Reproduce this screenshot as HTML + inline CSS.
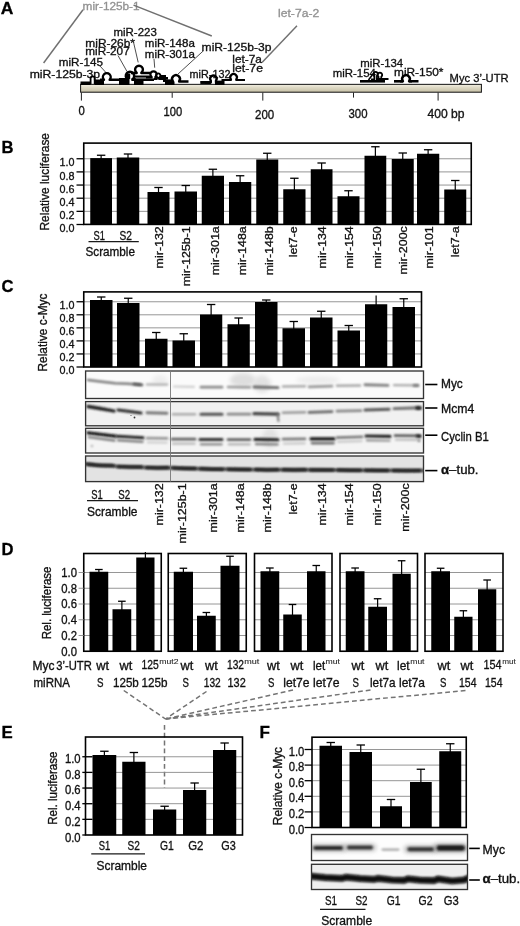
<!DOCTYPE html>
<html lang="en">
<head>
<meta charset="utf-8">
<title>Figure</title>
<style>
html,body{margin:0;padding:0;background:#fff;}
body{width:520px;height:926px;overflow:hidden;}
svg{display:block;font-family:"Liberation Sans",sans-serif;filter:blur(.35px);}
text{fill:#111;stroke:#111;stroke-width:.32px;}
text.g{fill:#929292;stroke:#929292;}
text.k{fill:#000;stroke:#000;}
</style>
</head>
<body>
<svg width="520" height="926" viewBox="0 0 520 926">
<defs>
<linearGradient id="utr" x1="0" y1="0" x2="0" y2="1">
<stop offset="0" stop-color="#f3f0e4"/><stop offset="0.45" stop-color="#dcd7c2"/><stop offset="1" stop-color="#c6c0a6"/>
</linearGradient>
<filter id="b1c" filterUnits="userSpaceOnUse" x="78" y="364" width="354" height="124"><feGaussianBlur stdDeviation="0.85"/></filter>
<filter id="b2c" filterUnits="userSpaceOnUse" x="78" y="364" width="354" height="124"><feGaussianBlur stdDeviation="1.2"/></filter>
<filter id="b3c" filterUnits="userSpaceOnUse" x="78" y="364" width="354" height="124"><feGaussianBlur stdDeviation="2.2"/></filter>
<filter id="b1f" filterUnits="userSpaceOnUse" x="304" y="828" width="172" height="68"><feGaussianBlur stdDeviation="0.85"/></filter>
<filter id="b2f" filterUnits="userSpaceOnUse" x="304" y="828" width="172" height="68"><feGaussianBlur stdDeviation="1.2"/></filter>
<filter id="b3f" filterUnits="userSpaceOnUse" x="304" y="828" width="172" height="68"><feGaussianBlur stdDeviation="2.2"/></filter>
</defs>
<rect x="0" y="0" width="520" height="926" fill="#fff"/>

<g id="panelA">
<text x="0.80" y="14.40" font-size="17.3" textLength="12.60" lengthAdjust="spacingAndGlyphs" class="k" font-weight="bold">A</text>
<text x="82.60" y="9.70" font-size="11.3" textLength="57.00" lengthAdjust="spacingAndGlyphs" class="g">mir-125b-1</text>
<text x="278.00" y="16.90" font-size="11.5" textLength="41.20" lengthAdjust="spacingAndGlyphs" class="g">let-7a-2</text>
<line x1="83.00" y1="9.80" x2="43.60" y2="63.00" stroke="#707070" stroke-width="1.45"/>
<line x1="133.50" y1="5.20" x2="211.80" y2="36.00" stroke="#707070" stroke-width="1.45"/>
<line x1="297.00" y1="25.80" x2="262.00" y2="62.40" stroke="#707070" stroke-width="1.45"/>
<text x="29.70" y="77.60" font-size="11.4" textLength="70.40" lengthAdjust="spacingAndGlyphs">miR-125b-3p</text>
<text x="58.80" y="65.60" font-size="11.4" textLength="44.10" lengthAdjust="spacingAndGlyphs">miR-145</text>
<text x="85.30" y="55.00" font-size="11.4" textLength="44.40" lengthAdjust="spacingAndGlyphs">miR-207</text>
<text x="85.30" y="46.50" font-size="11.4" textLength="49.70" lengthAdjust="spacingAndGlyphs">miR-26b*</text>
<text x="113.50" y="36.40" font-size="11.4" textLength="43.30" lengthAdjust="spacingAndGlyphs">miR-223</text>
<text x="144.80" y="47.40" font-size="11.4" textLength="50.10" lengthAdjust="spacingAndGlyphs">miR-148a</text>
<text x="144.80" y="57.90" font-size="11.4" textLength="50.10" lengthAdjust="spacingAndGlyphs">miR-301a</text>
<text x="201.60" y="50.70" font-size="11.4" textLength="69.80" lengthAdjust="spacingAndGlyphs">miR-125b-3p</text>
<text x="232.30" y="62.80" font-size="11.4" textLength="29.60" lengthAdjust="spacingAndGlyphs">let-7a</text>
<text x="232.30" y="71.90" font-size="11.4" textLength="30.70" lengthAdjust="spacingAndGlyphs">let-7e</text>
<text x="189.60" y="77.60" font-size="11.4" textLength="40.80" lengthAdjust="spacingAndGlyphs">miR-132</text>
<text x="332.80" y="76.90" font-size="11.4" textLength="43.00" lengthAdjust="spacingAndGlyphs">miR-154</text>
<text x="360.20" y="67.00" font-size="11.4" textLength="43.00" lengthAdjust="spacingAndGlyphs">miR-134</text>
<text x="394.00" y="75.90" font-size="11.4" textLength="49.50" lengthAdjust="spacingAndGlyphs">miR-150*</text>
<text x="449.60" y="82.40" font-size="11.4" textLength="59.00" lengthAdjust="spacingAndGlyphs">Myc 3’-UTR</text>
<line x1="100.00" y1="66.00" x2="106.40" y2="73.00" stroke="#3a3a3a" stroke-width="0.9"/>
<line x1="118.00" y1="55.50" x2="127.00" y2="71.50" stroke="#3a3a3a" stroke-width="0.9"/>
<line x1="133.00" y1="40.00" x2="138.20" y2="62.40" stroke="#3a3a3a" stroke-width="0.9"/>
<line x1="154.00" y1="58.80" x2="154.70" y2="67.70" stroke="#3a3a3a" stroke-width="0.9"/>
<line x1="203.40" y1="50.80" x2="178.00" y2="74.00" stroke="#3a3a3a" stroke-width="0.9"/>
<rect x="80.60" y="84.35" width="400.80" height="7.85" fill="url(#utr)" stroke="#111" stroke-width="1"/>
<line x1="81.40" y1="92.50" x2="81.40" y2="100.60" stroke="#222" stroke-width="1"/>
<line x1="172.20" y1="92.50" x2="172.20" y2="97.80" stroke="#222" stroke-width="1"/>
<line x1="262.80" y1="92.50" x2="262.80" y2="100.60" stroke="#222" stroke-width="1"/>
<line x1="353.50" y1="92.50" x2="353.50" y2="97.60" stroke="#222" stroke-width="1"/>
<line x1="438.10" y1="92.50" x2="438.10" y2="100.60" stroke="#222" stroke-width="1"/>
<text x="78.60" y="115.00" font-size="11.9" textLength="6.30" lengthAdjust="spacingAndGlyphs">0</text>
<text x="163.60" y="115.70" font-size="11.9" textLength="18.60" lengthAdjust="spacingAndGlyphs">100</text>
<text x="255.00" y="118.50" font-size="11.9" textLength="19.20" lengthAdjust="spacingAndGlyphs">200</text>
<text x="348.50" y="117.60" font-size="11.9" textLength="19.00" lengthAdjust="spacingAndGlyphs">300</text>
<text x="427.50" y="117.60" font-size="11.9" textLength="37.00" lengthAdjust="spacingAndGlyphs">400 bp</text>
<rect x="80.50" y="81.50" width="10.10" height="3.50" fill="#000"/>
<path d="M90.60,84.00 L90.60,78.35 A2.05,2.05 0 0 1 94.70,78.35 L94.70,84.00" fill="none" stroke="#000" stroke-width="1.8"/>
<rect x="94.60" y="79.50" width="9.40" height="5.50" fill="#000"/>
<path d="M100.00,79.80 L103.99,79.80 L103.99,79.72 A3.90,3.90 0 1 1 109.61,79.72 L109.61,79.80 L119.50,79.80" fill="none" stroke="#000" stroke-width="2.4" stroke-linejoin="round" stroke-linecap="butt"/>
<rect x="119.00" y="78.00" width="10.50" height="7.00" fill="#000"/>
<path d="M122.00,79.50 L127.48,79.50 L127.48,79.26 A4.20,4.20 0 1 1 132.52,79.26 L132.52,79.50 L136.00,79.50" fill="none" stroke="#000" stroke-width="2.5" stroke-linejoin="round" stroke-linecap="butt"/>
<rect x="126.20" y="73.50" width="4.00" height="5.50" fill="#000"/>
<path d="M131.00,73.00 L136.66,73.00 L136.66,72.72 A3.90,3.90 0 1 1 141.34,72.72 L141.34,73.00 L150.50,73.00" fill="none" stroke="#000" stroke-width="2.4" stroke-linejoin="round" stroke-linecap="butt"/>
<rect x="133.00" y="75.50" width="17.50" height="2.10" fill="#000"/>
<rect x="131.50" y="78.40" width="22.50" height="2.60" fill="#000"/>
<rect x="134.00" y="81.00" width="9.50" height="4.00" fill="#000"/>
<path d="M146.00,77.50 L151.64,77.50 L151.64,76.88 A3.10,3.10 0 1 1 155.36,76.88 L155.36,77.50 L158.00,77.50" fill="none" stroke="#000" stroke-width="2.2" stroke-linejoin="round" stroke-linecap="butt"/>
<path d="M154.00,79.00 L156.88,79.00 L156.88,77.36 A2.20,2.20 0 1 1 159.52,77.36 L159.52,79.00 L166.00,79.00" fill="none" stroke="#000" stroke-width="1.9" stroke-linejoin="round" stroke-linecap="butt"/>
<rect x="160.00" y="75.00" width="6.00" height="2.20" fill="#000"/>
<rect x="158.00" y="77.00" width="10.00" height="2.60" fill="#000"/>
<rect x="163.00" y="79.40" width="8.00" height="2.60" fill="#000"/>
<rect x="165.00" y="81.50" width="9.50" height="3.50" fill="#000"/>
<path d="M171.00,81.50 L172.88,81.50 L172.88,81.32 A3.90,3.90 0 1 1 179.12,81.32 L179.12,81.50 L188.50,81.50" fill="none" stroke="#000" stroke-width="2.4" stroke-linejoin="round" stroke-linecap="butt"/>
<rect x="200.50" y="81.00" width="10.00" height="2.80" fill="#000"/>
<path d="M205.00,82.60 L210.84,82.60 L210.84,80.76 A3.20,3.20 0 1 1 215.96,80.76 L215.96,82.60 L220.00,82.60" fill="none" stroke="#000" stroke-width="2.3" stroke-linejoin="round" stroke-linecap="butt"/>
<rect x="200.50" y="81.00" width="10.50" height="2.80" fill="#000"/>
<rect x="215.00" y="80.60" width="9.50" height="4.30" fill="#000"/>
<path d="M221.50,80.00 L230.96,80.00 L230.96,79.34 A3.30,3.30 0 1 1 236.24,79.34 L236.24,80.00 L245.00,80.00" fill="none" stroke="#000" stroke-width="2.2" stroke-linejoin="round" stroke-linecap="butt"/>
<rect x="360.00" y="80.00" width="25.00" height="2.60" fill="#000"/>
<rect x="376.50" y="78.00" width="12.00" height="2.00" fill="#000"/>
<path d="M371.00,79.50 L374.44,79.50 L374.44,75.68 A2.10,2.10 0 1 1 376.96,75.68 L376.96,79.50 L379.00,79.50" fill="none" stroke="#000" stroke-width="1.8" stroke-linejoin="round" stroke-linecap="butt"/>
<path d="M376.00,79.50 L378.52,79.50 L378.52,76.74 A2.30,2.30 0 1 1 381.28,76.74 L381.28,79.50 L385.00,79.50" fill="none" stroke="#000" stroke-width="1.8" stroke-linejoin="round" stroke-linecap="butt"/>
<line x1="368.50" y1="80.00" x2="374.50" y2="72.00" stroke="#000" stroke-width="1.6"/>
<rect x="394.00" y="80.00" width="9.00" height="2.60" fill="#000"/>
<path d="M400.00,81.30 L402.96,81.30 L402.96,81.14 A3.80,3.80 0 1 1 409.04,81.14 L409.04,81.30 L412.00,81.30" fill="none" stroke="#000" stroke-width="2.4" stroke-linejoin="round" stroke-linecap="butt"/>
<rect x="409.00" y="80.00" width="9.50" height="2.50" fill="#000"/>
</g>
<g id="panelB">
<text x="1.50" y="152.50" font-size="17.3" textLength="12.00" lengthAdjust="spacingAndGlyphs" class="k" font-weight="bold">B</text>
<line x1="83.75" y1="158.75" x2="471.25" y2="158.75" stroke="#8a8a8a" stroke-width="0.9"/>
<line x1="83.75" y1="171.90" x2="471.25" y2="171.90" stroke="#8a8a8a" stroke-width="0.9"/>
<line x1="83.75" y1="185.05" x2="471.25" y2="185.05" stroke="#8a8a8a" stroke-width="0.9"/>
<line x1="83.75" y1="198.20" x2="471.25" y2="198.20" stroke="#8a8a8a" stroke-width="0.9"/>
<line x1="83.75" y1="211.35" x2="471.25" y2="211.35" stroke="#8a8a8a" stroke-width="0.9"/>
<line x1="101.12" y1="155.25" x2="101.12" y2="159.10" stroke="#000" stroke-width="1.2"/>
<line x1="96.92" y1="155.25" x2="105.33" y2="155.25" stroke="#000" stroke-width="1.3"/>
<rect x="90.25" y="158.10" width="21.75" height="66.30" fill="#000"/>
<line x1="128.00" y1="154.00" x2="128.00" y2="158.50" stroke="#000" stroke-width="1.2"/>
<line x1="123.80" y1="154.00" x2="132.20" y2="154.00" stroke="#000" stroke-width="1.3"/>
<rect x="116.75" y="157.50" width="22.50" height="66.90" fill="#000"/>
<line x1="158.50" y1="187.50" x2="158.50" y2="193.00" stroke="#000" stroke-width="1.2"/>
<line x1="154.30" y1="187.50" x2="162.70" y2="187.50" stroke="#000" stroke-width="1.3"/>
<rect x="147.50" y="192.00" width="22.00" height="32.40" fill="#000"/>
<line x1="185.75" y1="185.50" x2="185.75" y2="192.50" stroke="#000" stroke-width="1.2"/>
<line x1="181.55" y1="185.50" x2="189.95" y2="185.50" stroke="#000" stroke-width="1.3"/>
<rect x="174.50" y="191.50" width="22.50" height="32.90" fill="#000"/>
<line x1="212.88" y1="169.25" x2="212.88" y2="176.75" stroke="#000" stroke-width="1.2"/>
<line x1="208.68" y1="169.25" x2="217.07" y2="169.25" stroke="#000" stroke-width="1.3"/>
<rect x="201.75" y="175.75" width="22.25" height="48.65" fill="#000"/>
<line x1="240.12" y1="175.75" x2="240.12" y2="183.00" stroke="#000" stroke-width="1.2"/>
<line x1="235.93" y1="175.75" x2="244.32" y2="175.75" stroke="#000" stroke-width="1.3"/>
<rect x="229.00" y="182.00" width="22.25" height="42.40" fill="#000"/>
<line x1="267.25" y1="153.25" x2="267.25" y2="160.50" stroke="#000" stroke-width="1.2"/>
<line x1="263.05" y1="153.25" x2="271.45" y2="153.25" stroke="#000" stroke-width="1.3"/>
<rect x="256.25" y="159.50" width="22.00" height="64.90" fill="#000"/>
<line x1="294.38" y1="178.25" x2="294.38" y2="190.25" stroke="#000" stroke-width="1.2"/>
<line x1="290.18" y1="178.25" x2="298.57" y2="178.25" stroke="#000" stroke-width="1.3"/>
<rect x="283.25" y="189.25" width="22.25" height="35.15" fill="#000"/>
<line x1="321.62" y1="163.00" x2="321.62" y2="170.25" stroke="#000" stroke-width="1.2"/>
<line x1="317.43" y1="163.00" x2="325.82" y2="163.00" stroke="#000" stroke-width="1.3"/>
<rect x="310.75" y="169.25" width="21.75" height="55.15" fill="#000"/>
<line x1="348.50" y1="190.75" x2="348.50" y2="197.25" stroke="#000" stroke-width="1.2"/>
<line x1="344.30" y1="190.75" x2="352.70" y2="190.75" stroke="#000" stroke-width="1.3"/>
<rect x="337.50" y="196.25" width="22.00" height="28.15" fill="#000"/>
<line x1="375.38" y1="146.75" x2="375.38" y2="156.75" stroke="#000" stroke-width="1.2"/>
<line x1="371.18" y1="146.75" x2="379.57" y2="146.75" stroke="#000" stroke-width="1.3"/>
<rect x="364.50" y="155.75" width="21.75" height="68.65" fill="#000"/>
<line x1="402.75" y1="153.00" x2="402.75" y2="160.00" stroke="#000" stroke-width="1.2"/>
<line x1="398.55" y1="153.00" x2="406.95" y2="153.00" stroke="#000" stroke-width="1.3"/>
<rect x="391.75" y="159.00" width="22.00" height="65.40" fill="#000"/>
<line x1="428.12" y1="149.75" x2="428.12" y2="154.75" stroke="#000" stroke-width="1.2"/>
<line x1="423.93" y1="149.75" x2="432.32" y2="149.75" stroke="#000" stroke-width="1.3"/>
<rect x="417.00" y="153.75" width="22.25" height="70.65" fill="#000"/>
<line x1="455.25" y1="180.50" x2="455.25" y2="190.50" stroke="#000" stroke-width="1.2"/>
<line x1="451.05" y1="180.50" x2="459.45" y2="180.50" stroke="#000" stroke-width="1.3"/>
<rect x="444.25" y="189.50" width="22.00" height="34.90" fill="#000"/>
<rect x="83.75" y="143.10" width="387.50" height="81.30" fill="none" stroke="#000" stroke-width="1.6"/>
<line x1="76.50" y1="158.75" x2="83.75" y2="158.75" stroke="#000" stroke-width="1.3"/>
<line x1="76.50" y1="171.90" x2="83.75" y2="171.90" stroke="#000" stroke-width="1.3"/>
<line x1="76.50" y1="185.05" x2="83.75" y2="185.05" stroke="#000" stroke-width="1.3"/>
<line x1="76.50" y1="198.20" x2="83.75" y2="198.20" stroke="#000" stroke-width="1.3"/>
<line x1="76.50" y1="211.35" x2="83.75" y2="211.35" stroke="#000" stroke-width="1.3"/>
<line x1="76.50" y1="224.50" x2="83.75" y2="224.50" stroke="#000" stroke-width="1.3"/>
<text x="74.50" y="166.35" font-size="11.8" textLength="15.00" lengthAdjust="spacingAndGlyphs" text-anchor="end">1.0</text>
<text x="74.50" y="179.50" font-size="11.8" textLength="15.00" lengthAdjust="spacingAndGlyphs" text-anchor="end">0.8</text>
<text x="74.50" y="192.65" font-size="11.8" textLength="15.00" lengthAdjust="spacingAndGlyphs" text-anchor="end">0.6</text>
<text x="74.50" y="205.80" font-size="11.8" textLength="15.00" lengthAdjust="spacingAndGlyphs" text-anchor="end">0.4</text>
<text x="74.50" y="218.95" font-size="11.8" textLength="15.00" lengthAdjust="spacingAndGlyphs" text-anchor="end">0.2</text>
<text x="74.50" y="232.10" font-size="11.8" textLength="15.00" lengthAdjust="spacingAndGlyphs" text-anchor="end">0.0</text>
<text x="48.90" y="230.50" font-size="12.2" textLength="97.50" lengthAdjust="spacingAndGlyphs" transform="rotate(-90 48.90 230.50)">Relative luciferase</text>
<text x="93.60" y="240.00" font-size="12.2" textLength="11.40" lengthAdjust="spacingAndGlyphs">S1</text>
<text x="119.50" y="240.00" font-size="12.2" textLength="12.40" lengthAdjust="spacingAndGlyphs">S2</text>
<line x1="88.50" y1="241.60" x2="138.80" y2="241.60" stroke="#1a1a1a" stroke-width="1.3"/>
<text x="85.50" y="255.75" font-size="12.2" textLength="49.50" lengthAdjust="spacingAndGlyphs">Scramble</text>
<text x="163.00" y="226.20" font-size="11.7" textLength="42.18" lengthAdjust="spacingAndGlyphs" text-anchor="end" transform="rotate(-90 163.00 226.20)">mir-132</text>
<text x="190.00" y="226.20" font-size="11.7" textLength="60.17" lengthAdjust="spacingAndGlyphs" text-anchor="end" transform="rotate(-90 190.00 226.20)">mir-125b-1</text>
<text x="219.30" y="226.20" font-size="11.7" textLength="49.10" lengthAdjust="spacingAndGlyphs" text-anchor="end" transform="rotate(-90 219.30 226.20)">mir-301a</text>
<text x="246.00" y="226.20" font-size="11.7" textLength="49.10" lengthAdjust="spacingAndGlyphs" text-anchor="end" transform="rotate(-90 246.00 226.20)">mir-148a</text>
<text x="272.80" y="226.20" font-size="11.7" textLength="49.10" lengthAdjust="spacingAndGlyphs" text-anchor="end" transform="rotate(-90 272.80 226.20)">mir-148b</text>
<text x="297.20" y="226.20" font-size="11.7" textLength="31.13" lengthAdjust="spacingAndGlyphs" text-anchor="end" transform="rotate(-90 297.20 226.20)">let7-e</text>
<text x="325.80" y="226.20" font-size="11.7" textLength="42.18" lengthAdjust="spacingAndGlyphs" text-anchor="end" transform="rotate(-90 325.80 226.20)">mir-134</text>
<text x="353.40" y="226.20" font-size="11.7" textLength="42.18" lengthAdjust="spacingAndGlyphs" text-anchor="end" transform="rotate(-90 353.40 226.20)">mir-154</text>
<text x="380.80" y="226.20" font-size="11.7" textLength="42.18" lengthAdjust="spacingAndGlyphs" text-anchor="end" transform="rotate(-90 380.80 226.20)">mir-150</text>
<text x="407.00" y="226.20" font-size="11.7" textLength="48.41" lengthAdjust="spacingAndGlyphs" text-anchor="end" transform="rotate(-90 407.00 226.20)">mir-200c</text>
<text x="433.00" y="226.20" font-size="11.7" textLength="42.18" lengthAdjust="spacingAndGlyphs" text-anchor="end" transform="rotate(-90 433.00 226.20)">mir-101</text>
<text x="458.70" y="226.20" font-size="11.7" textLength="31.13" lengthAdjust="spacingAndGlyphs" text-anchor="end" transform="rotate(-90 458.70 226.20)">let7-a</text>
</g>
<g id="panelC">
<text x="1.50" y="292.20" font-size="17.3" textLength="12.00" lengthAdjust="spacingAndGlyphs" class="k" font-weight="bold">C</text>
<line x1="83.75" y1="301.75" x2="421.50" y2="301.75" stroke="#8a8a8a" stroke-width="0.9"/>
<line x1="83.75" y1="314.80" x2="421.50" y2="314.80" stroke="#8a8a8a" stroke-width="0.9"/>
<line x1="83.75" y1="327.85" x2="421.50" y2="327.85" stroke="#8a8a8a" stroke-width="0.9"/>
<line x1="83.75" y1="340.90" x2="421.50" y2="340.90" stroke="#8a8a8a" stroke-width="0.9"/>
<line x1="83.75" y1="353.95" x2="421.50" y2="353.95" stroke="#8a8a8a" stroke-width="0.9"/>
<line x1="101.25" y1="297.00" x2="101.25" y2="301.00" stroke="#000" stroke-width="1.2"/>
<line x1="97.05" y1="297.00" x2="105.45" y2="297.00" stroke="#000" stroke-width="1.3"/>
<rect x="90.00" y="300.00" width="22.50" height="67.00" fill="#000"/>
<line x1="128.25" y1="298.25" x2="128.25" y2="304.00" stroke="#000" stroke-width="1.2"/>
<line x1="124.05" y1="298.25" x2="132.45" y2="298.25" stroke="#000" stroke-width="1.3"/>
<rect x="117.00" y="303.00" width="22.50" height="64.00" fill="#000"/>
<line x1="156.25" y1="332.50" x2="156.25" y2="339.75" stroke="#000" stroke-width="1.2"/>
<line x1="152.05" y1="332.50" x2="160.45" y2="332.50" stroke="#000" stroke-width="1.3"/>
<rect x="145.00" y="338.75" width="22.50" height="28.25" fill="#000"/>
<line x1="183.75" y1="333.75" x2="183.75" y2="341.50" stroke="#000" stroke-width="1.2"/>
<line x1="179.55" y1="333.75" x2="187.95" y2="333.75" stroke="#000" stroke-width="1.3"/>
<rect x="172.50" y="340.50" width="22.50" height="26.50" fill="#000"/>
<line x1="211.12" y1="304.50" x2="211.12" y2="315.50" stroke="#000" stroke-width="1.2"/>
<line x1="206.93" y1="304.50" x2="215.32" y2="304.50" stroke="#000" stroke-width="1.3"/>
<rect x="200.00" y="314.50" width="22.25" height="52.50" fill="#000"/>
<line x1="238.62" y1="318.00" x2="238.62" y2="325.25" stroke="#000" stroke-width="1.2"/>
<line x1="234.43" y1="318.00" x2="242.82" y2="318.00" stroke="#000" stroke-width="1.3"/>
<rect x="227.50" y="324.25" width="22.25" height="42.75" fill="#000"/>
<line x1="266.25" y1="300.00" x2="266.25" y2="303.00" stroke="#000" stroke-width="1.2"/>
<line x1="262.05" y1="300.00" x2="270.45" y2="300.00" stroke="#000" stroke-width="1.3"/>
<rect x="255.00" y="302.00" width="22.50" height="65.00" fill="#000"/>
<line x1="293.75" y1="321.50" x2="293.75" y2="329.25" stroke="#000" stroke-width="1.2"/>
<line x1="289.55" y1="321.50" x2="297.95" y2="321.50" stroke="#000" stroke-width="1.3"/>
<rect x="282.50" y="328.25" width="22.50" height="38.75" fill="#000"/>
<line x1="321.25" y1="311.25" x2="321.25" y2="318.50" stroke="#000" stroke-width="1.2"/>
<line x1="317.05" y1="311.25" x2="325.45" y2="311.25" stroke="#000" stroke-width="1.3"/>
<rect x="310.00" y="317.50" width="22.50" height="49.50" fill="#000"/>
<line x1="348.75" y1="325.50" x2="348.75" y2="331.50" stroke="#000" stroke-width="1.2"/>
<line x1="344.55" y1="325.50" x2="352.95" y2="325.50" stroke="#000" stroke-width="1.3"/>
<rect x="337.50" y="330.50" width="22.50" height="36.50" fill="#000"/>
<line x1="376.12" y1="295.50" x2="376.12" y2="305.25" stroke="#000" stroke-width="1.2"/>
<rect x="365.00" y="304.25" width="22.25" height="62.75" fill="#000"/>
<line x1="403.75" y1="298.75" x2="403.75" y2="308.00" stroke="#000" stroke-width="1.2"/>
<line x1="399.55" y1="298.75" x2="407.95" y2="298.75" stroke="#000" stroke-width="1.3"/>
<rect x="392.50" y="307.00" width="22.50" height="60.00" fill="#000"/>
<rect x="83.75" y="291.90" width="337.75" height="75.10" fill="none" stroke="#000" stroke-width="1.6"/>
<line x1="76.50" y1="301.75" x2="83.75" y2="301.75" stroke="#000" stroke-width="1.3"/>
<line x1="76.50" y1="314.80" x2="83.75" y2="314.80" stroke="#000" stroke-width="1.3"/>
<line x1="76.50" y1="327.85" x2="83.75" y2="327.85" stroke="#000" stroke-width="1.3"/>
<line x1="76.50" y1="340.90" x2="83.75" y2="340.90" stroke="#000" stroke-width="1.3"/>
<line x1="76.50" y1="353.95" x2="83.75" y2="353.95" stroke="#000" stroke-width="1.3"/>
<line x1="76.50" y1="367.00" x2="83.75" y2="367.00" stroke="#000" stroke-width="1.3"/>
<text x="74.40" y="309.15" font-size="11.8" textLength="15.00" lengthAdjust="spacingAndGlyphs" text-anchor="end">1.0</text>
<text x="74.40" y="322.20" font-size="11.8" textLength="15.00" lengthAdjust="spacingAndGlyphs" text-anchor="end">0.8</text>
<text x="74.40" y="335.25" font-size="11.8" textLength="15.00" lengthAdjust="spacingAndGlyphs" text-anchor="end">0.6</text>
<text x="74.40" y="348.30" font-size="11.8" textLength="15.00" lengthAdjust="spacingAndGlyphs" text-anchor="end">0.4</text>
<text x="74.40" y="361.35" font-size="11.8" textLength="15.00" lengthAdjust="spacingAndGlyphs" text-anchor="end">0.2</text>
<text x="74.40" y="374.40" font-size="11.8" textLength="15.00" lengthAdjust="spacingAndGlyphs" text-anchor="end">0.0</text>
<text x="47.00" y="371.50" font-size="12.2" textLength="78.00" lengthAdjust="spacingAndGlyphs" transform="rotate(-90 47.00 371.50)">Relative c-Myc</text>
</g>
<g id="blotsC">
<clipPath id="cl1"><rect x="85" y="370.5" width="338.5" height="28"/></clipPath>
<rect x="85.60" y="371.00" width="337.90" height="27.50" fill="#fbfbfb"/>
<g clip-path="url(#cl1)">
<ellipse cx="243" cy="380" rx="13" ry="7" fill="#dedede" filter="url(#b3c)"/>
<ellipse cx="262" cy="384" rx="9" ry="9" fill="#e2e2e2" filter="url(#b3c)"/>
<ellipse cx="318" cy="380" rx="22" ry="4" fill="#ececec" filter="url(#b3c)"/>
<ellipse cx="160" cy="380" rx="8" ry="5" fill="#ededed" filter="url(#b3c)"/>
<path d="M88.0,380.0 L100.0,381.5 L115.0,383.2 L128.0,383.8 L140.0,384.8" fill="none" stroke="#7d7d7d" stroke-width="2.5" stroke-linecap="round" filter="url(#b1c)" opacity="1.0"/>
<path d="M134.0,384.0 L142.0,384.8" fill="none" stroke="#5c5c5c" stroke-width="2.7" stroke-linecap="round" filter="url(#b1c)" opacity="1.0"/>
<path d="M147.0,384.5 L167.0,384.5" fill="none" stroke="#b5b5b5" stroke-width="2.5" stroke-linecap="round" filter="url(#b1c)" opacity="1.0"/>
<path d="M174.0,386.5 L194.0,386.8" fill="none" stroke="#cfcfcf" stroke-width="2.2" stroke-linecap="round" filter="url(#b1c)" opacity="1.0"/>
<path d="M201.0,387.2 L222.0,387.2" fill="none" stroke="#8a8a8a" stroke-width="2.7" stroke-linecap="round" filter="url(#b1c)" opacity="1.0"/>
<path d="M228.0,387.0 L250.0,387.2" fill="none" stroke="#999" stroke-width="2.5999999999999996" stroke-linecap="round" filter="url(#b1c)" opacity="1.0"/>
<path d="M254.0,387.0 L278.0,387.6" fill="none" stroke="#6a6a6a" stroke-width="2.9000000000000004" stroke-linecap="round" filter="url(#b1c)" opacity="1.0"/>
<path d="M283.0,386.5 L305.0,386.3" fill="none" stroke="#aaa" stroke-width="2.5" stroke-linecap="round" filter="url(#b1c)" opacity="1.0"/>
<path d="M309.0,386.8 L332.0,386.2" fill="none" stroke="#999" stroke-width="2.7" stroke-linecap="round" filter="url(#b1c)" opacity="1.0"/>
<path d="M337.0,385.8 L360.0,385.5" fill="none" stroke="#a8a8a8" stroke-width="2.5999999999999996" stroke-linecap="round" filter="url(#b1c)" opacity="1.0"/>
<path d="M365.0,384.8 L388.0,385.4" fill="none" stroke="#808080" stroke-width="2.9000000000000004" stroke-linecap="round" filter="url(#b1c)" opacity="1.0"/>
<path d="M394.0,385.2 L418.0,385.4" fill="none" stroke="#aaa" stroke-width="2.2" stroke-linecap="round" filter="url(#b1c)" opacity="1.0"/>
<path d="M414.0,385.6 L418.0,385.6" fill="none" stroke="#777" stroke-width="2.5" stroke-linecap="round" filter="url(#b1c)" opacity="1.0"/>
</g>
<rect x="85.60" y="371.00" width="337.90" height="27.50" fill="none" stroke="#333" stroke-width="1.35"/>
<clipPath id="cl2"><rect x="85" y="401.6" width="338.5" height="24.2"/></clipPath>
<rect x="85.60" y="401.60" width="337.90" height="24.20" fill="#f1f1f1"/>
<g clip-path="url(#cl2)">
<path d="M88.0,406.5 L100.0,408.5 L114.0,411.0" fill="none" stroke="#1e1e1e" stroke-width="3.3" stroke-linecap="round" filter="url(#b1c)" opacity="1.0"/>
<path d="M118.0,410.0 L130.0,411.5 L141.0,413.0" fill="none" stroke="#2c2c2c" stroke-width="3.0999999999999996" stroke-linecap="round" filter="url(#b1c)" opacity="1.0"/>
<path d="M147.0,412.8 L167.0,413.2" fill="none" stroke="#777" stroke-width="2.9000000000000004" stroke-linecap="round" filter="url(#b1c)" opacity="1.0"/>
<path d="M173.0,414.2 L195.0,414.2" fill="none" stroke="#aaa" stroke-width="2.5" stroke-linecap="round" filter="url(#b1c)" opacity="1.0"/>
<path d="M201.0,414.2 L222.0,414.2" fill="none" stroke="#505050" stroke-width="3.0999999999999996" stroke-linecap="round" filter="url(#b1c)" opacity="1.0"/>
<path d="M228.0,414.2 L250.0,414.2" fill="none" stroke="#888" stroke-width="2.7" stroke-linecap="round" filter="url(#b1c)" opacity="1.0"/>
<path d="M254.0,413.6 L278.0,414.2" fill="none" stroke="#404040" stroke-width="3.3" stroke-linecap="round" filter="url(#b1c)" opacity="1.0"/>
<path d="M277.5,414.0 L278.5,421.0" fill="none" stroke="#777" stroke-width="2.0" stroke-linecap="round" filter="url(#b2c)" opacity="1.0"/>
<path d="M283.0,412.8 L305.0,412.3" fill="none" stroke="#999" stroke-width="2.5999999999999996" stroke-linecap="round" filter="url(#b1c)" opacity="1.0"/>
<path d="M309.0,412.4 L332.0,411.6" fill="none" stroke="#666" stroke-width="2.9000000000000004" stroke-linecap="round" filter="url(#b1c)" opacity="1.0"/>
<path d="M337.0,411.2 L361.0,410.6" fill="none" stroke="#888" stroke-width="2.7" stroke-linecap="round" filter="url(#b1c)" opacity="1.0"/>
<path d="M365.0,410.0 L389.0,409.2" fill="none" stroke="#555" stroke-width="3.0999999999999996" stroke-linecap="round" filter="url(#b1c)" opacity="1.0"/>
<path d="M394.0,408.6 L420.0,407.8" fill="none" stroke="#6a6a6a" stroke-width="2.9000000000000004" stroke-linecap="round" filter="url(#b1c)" opacity="1.0"/>
<path d="M417.0,408.0 L420.0,408.2" fill="none" stroke="#222" stroke-width="3.3" stroke-linecap="round" filter="url(#b1c)" opacity="1.0"/>
<circle cx="134.5" cy="417.5" r="0.9" fill="#333"/><circle cx="131" cy="415.5" r="0.6" fill="#555"/>
</g>
<rect x="85.60" y="401.60" width="337.90" height="24.20" fill="none" stroke="#333" stroke-width="1.35"/>
<clipPath id="cl3"><rect x="85" y="428.3" width="338.5" height="24.7"/></clipPath>
<rect x="85.60" y="428.30" width="337.90" height="24.70" fill="#f4f4f4"/>
<g clip-path="url(#cl3)">
<ellipse cx="270" cy="438" rx="8" ry="10" fill="#e2e2e2" filter="url(#b3c)"/>
<path d="M88.0,432.8 L115.0,436.2" fill="none" stroke="#141414" stroke-width="3.2" stroke-linecap="round" filter="url(#b1c)" opacity="1.0"/>
<path d="M89.0,437.1 L114.5,440.5" fill="none" stroke="#7c7c7c" stroke-width="2.4" stroke-linecap="round" filter="url(#b1c)" opacity="1.0"/>
<path d="M117.0,436.2 L143.0,437.8" fill="none" stroke="#222" stroke-width="3.0999999999999996" stroke-linecap="round" filter="url(#b1c)" opacity="1.0"/>
<path d="M118.0,440.2 L142.5,441.8" fill="none" stroke="#808080" stroke-width="2.4" stroke-linecap="round" filter="url(#b1c)" opacity="1.0"/>
<path d="M147.0,438.2 L167.0,438.4" fill="none" stroke="#969696" stroke-width="2.7" stroke-linecap="round" filter="url(#b1c)" opacity="1.0"/>
<path d="M148.0,442.4 L166.5,442.6" fill="none" stroke="#cfcfcf" stroke-width="2.4" stroke-linecap="round" filter="url(#b1c)" opacity="1.0"/>
<path d="M172.0,439.2 L195.0,439.2" fill="none" stroke="#5e5e5e" stroke-width="2.7" stroke-linecap="round" filter="url(#b1c)" opacity="1.0"/>
<path d="M173.0,443.6 L194.5,443.6" fill="none" stroke="#b8b8b8" stroke-width="2.4" stroke-linecap="round" filter="url(#b1c)" opacity="1.0"/>
<path d="M200.0,439.6 L222.0,439.6" fill="none" stroke="#2e2e2e" stroke-width="3.0" stroke-linecap="round" filter="url(#b1c)" opacity="1.0"/>
<path d="M201.0,444.2 L221.5,444.2" fill="none" stroke="#909090" stroke-width="2.4" stroke-linecap="round" filter="url(#b1c)" opacity="1.0"/>
<path d="M228.0,439.6 L250.0,439.6" fill="none" stroke="#606060" stroke-width="2.7" stroke-linecap="round" filter="url(#b1c)" opacity="1.0"/>
<path d="M229.0,444.2 L249.5,444.2" fill="none" stroke="#b8b8b8" stroke-width="2.4" stroke-linecap="round" filter="url(#b1c)" opacity="1.0"/>
<path d="M255.0,439.4 L278.0,439.8" fill="none" stroke="#202020" stroke-width="3.0999999999999996" stroke-linecap="round" filter="url(#b1c)" opacity="1.0"/>
<path d="M256.0,444.0 L277.5,444.4" fill="none" stroke="#808080" stroke-width="2.4" stroke-linecap="round" filter="url(#b1c)" opacity="1.0"/>
<path d="M283.0,439.2 L305.0,438.8" fill="none" stroke="#7a7a7a" stroke-width="2.7" stroke-linecap="round" filter="url(#b1c)" opacity="1.0"/>
<path d="M284.0,443.6 L304.5,443.2" fill="none" stroke="#cacaca" stroke-width="2.4" stroke-linecap="round" filter="url(#b1c)" opacity="1.0"/>
<path d="M311.0,438.8 L334.0,438.8" fill="none" stroke="#141414" stroke-width="3.2" stroke-linecap="round" filter="url(#b1c)" opacity="1.0"/>
<path d="M312.0,443.1 L333.5,443.1" fill="none" stroke="#707070" stroke-width="2.7" stroke-linecap="round" filter="url(#b1c)" opacity="1.0"/>
<path d="M337.0,437.6 L362.0,436.8" fill="none" stroke="#7a7a7a" stroke-width="2.7" stroke-linecap="round" filter="url(#b1c)" opacity="1.0"/>
<path d="M338.0,441.8 L361.5,441.0" fill="none" stroke="#cccccc" stroke-width="2.4" stroke-linecap="round" filter="url(#b1c)" opacity="1.0"/>
<path d="M366.0,436.0 L390.0,436.4" fill="none" stroke="#222" stroke-width="3.0999999999999996" stroke-linecap="round" filter="url(#b1c)" opacity="1.0"/>
<path d="M367.0,440.2 L389.5,440.6" fill="none" stroke="#999" stroke-width="2.4" stroke-linecap="round" filter="url(#b1c)" opacity="1.0"/>
<path d="M395.0,435.6 L420.0,435.8" fill="none" stroke="#5a5a5a" stroke-width="2.7" stroke-linecap="round" filter="url(#b1c)" opacity="1.0"/>
<path d="M396.0,439.6 L419.5,439.8" fill="none" stroke="#bdbdbd" stroke-width="2.4" stroke-linecap="round" filter="url(#b1c)" opacity="1.0"/>
<path d="M417.5,436.0 L420.0,436.2" fill="none" stroke="#222" stroke-width="3.0999999999999996" stroke-linecap="round" filter="url(#b1c)" opacity="1.0"/>
<circle cx="419" cy="441" r="1.0" fill="#555" filter="url(#b1c)"/>
<circle cx="92" cy="446" r="1.1" fill="#9a9a9a" filter="url(#b1c)"/>
</g>
<rect x="85.60" y="428.30" width="337.90" height="24.70" fill="none" stroke="#333" stroke-width="1.35"/>
<clipPath id="cl4"><rect x="85" y="456" width="338.5" height="25.6"/></clipPath>
<rect x="85.60" y="456.00" width="337.90" height="25.60" fill="#e3e3e3"/>
<g clip-path="url(#cl4)">
<path d="M84.0,463.8 L95.0,465.0 L112.0,465.6 L118.0,466.6 L140.0,467.0 L146.0,467.6 L170.0,467.8 L200.0,468.8 L250.0,469.6 L300.0,469.8 L360.0,470.2 L424.0,470.6" fill="none" stroke="#555" stroke-width="4.0" stroke-linecap="round" filter="url(#b2c)" opacity="0.45"/>
<path d="M84.0,463.8 L95.0,465.0 L112.0,465.6 L118.0,466.6 L140.0,467.0 L146.0,467.6 L170.0,467.8 L200.0,468.8 L250.0,469.6 L300.0,469.8 L360.0,470.2 L424.0,470.6" fill="none" stroke="#303030" stroke-width="1.9" stroke-linecap="round" filter="url(#b1c)" opacity="1.0"/>
<path d="M87.7,464.2 L100.5,465.4 L113.3,465.8" fill="none" stroke="#242424" stroke-width="3.0" stroke-linecap="round" filter="url(#b1c)" opacity="1.0"/>
<path d="M118.2,466.6 L129.8,467.0 L141.3,467.1" fill="none" stroke="#242424" stroke-width="3.0" stroke-linecap="round" filter="url(#b1c)" opacity="1.0"/>
<path d="M146.7,467.6 L157.2,467.9 L167.8,467.8" fill="none" stroke="#242424" stroke-width="3.0" stroke-linecap="round" filter="url(#b1c)" opacity="1.0"/>
<path d="M173.2,467.9 L184.2,468.5 L195.3,468.6" fill="none" stroke="#242424" stroke-width="3.0" stroke-linecap="round" filter="url(#b1c)" opacity="1.0"/>
<path d="M200.7,468.8 L211.8,469.2 L222.8,469.2" fill="none" stroke="#242424" stroke-width="3.0" stroke-linecap="round" filter="url(#b1c)" opacity="1.0"/>
<path d="M228.2,469.3 L239.2,469.6 L250.3,469.6" fill="none" stroke="#242424" stroke-width="3.0" stroke-linecap="round" filter="url(#b1c)" opacity="1.0"/>
<path d="M255.7,469.6 L266.8,469.9 L277.8,469.7" fill="none" stroke="#242424" stroke-width="3.0" stroke-linecap="round" filter="url(#b1c)" opacity="1.0"/>
<path d="M283.2,469.7 L294.2,470.0 L305.3,469.8" fill="none" stroke="#242424" stroke-width="3.0" stroke-linecap="round" filter="url(#b1c)" opacity="1.0"/>
<path d="M310.7,469.9 L321.8,470.1 L332.8,470.0" fill="none" stroke="#242424" stroke-width="3.0" stroke-linecap="round" filter="url(#b1c)" opacity="1.0"/>
<path d="M338.2,470.1 L349.2,470.3 L360.3,470.2" fill="none" stroke="#242424" stroke-width="3.0" stroke-linecap="round" filter="url(#b1c)" opacity="1.0"/>
<path d="M365.7,470.2 L376.8,470.5 L387.8,470.4" fill="none" stroke="#242424" stroke-width="3.0" stroke-linecap="round" filter="url(#b1c)" opacity="1.0"/>
<path d="M393.2,470.4 L406.5,470.7 L419.8,470.6" fill="none" stroke="#242424" stroke-width="3.0" stroke-linecap="round" filter="url(#b1c)" opacity="1.0"/>
</g>
<rect x="85.60" y="456.00" width="337.90" height="25.60" fill="none" stroke="#333" stroke-width="1.35"/>
<line x1="170.50" y1="370.50" x2="170.50" y2="481.60" stroke="#777" stroke-width="0.9"/>
</g>
<line x1="425.20" y1="384.50" x2="437.40" y2="384.50" stroke="#000" stroke-width="1.6"/>
<line x1="425.20" y1="408.00" x2="437.40" y2="408.00" stroke="#000" stroke-width="1.6"/>
<line x1="425.20" y1="435.20" x2="437.40" y2="435.20" stroke="#000" stroke-width="1.6"/>
<line x1="425.20" y1="470.60" x2="437.40" y2="470.60" stroke="#000" stroke-width="1.6"/>
<text x="441.00" y="388.00" font-size="12.2" textLength="21.80" lengthAdjust="spacingAndGlyphs">Myc</text>
<text x="441.00" y="413.00" font-size="12.2" textLength="33.30" lengthAdjust="spacingAndGlyphs">Mcm4</text>
<text x="441.00" y="441.20" font-size="12.2" textLength="47.80" lengthAdjust="spacingAndGlyphs">Cyclin B1</text>
<text x="441" y="474" font-size="12.2" textLength="37.5" lengthAdjust="spacingAndGlyphs"><tspan font-weight="bold">α</tspan>–tub.</text>
<text x="91.25" y="498.75" font-size="12.2" textLength="11.50" lengthAdjust="spacingAndGlyphs">S1</text>
<text x="118.25" y="498.75" font-size="12.2" textLength="11.80" lengthAdjust="spacingAndGlyphs">S2</text>
<line x1="87.00" y1="500.60" x2="138.00" y2="500.60" stroke="#1a1a1a" stroke-width="1.3"/>
<text x="87.00" y="515.75" font-size="12.2" textLength="50.50" lengthAdjust="spacingAndGlyphs">Scramble</text>
<text x="163.50" y="483.30" font-size="11.7" textLength="42.18" lengthAdjust="spacingAndGlyphs" text-anchor="end" transform="rotate(-90 163.50 483.30)">mir-132</text>
<text x="186.30" y="483.30" font-size="11.7" textLength="60.17" lengthAdjust="spacingAndGlyphs" text-anchor="end" transform="rotate(-90 186.30 483.30)">mir-125b-1</text>
<text x="216.80" y="483.30" font-size="11.7" textLength="49.10" lengthAdjust="spacingAndGlyphs" text-anchor="end" transform="rotate(-90 216.80 483.30)">mir-301a</text>
<text x="244.20" y="483.30" font-size="11.7" textLength="49.10" lengthAdjust="spacingAndGlyphs" text-anchor="end" transform="rotate(-90 244.20 483.30)">mir-148a</text>
<text x="271.30" y="483.30" font-size="11.7" textLength="49.10" lengthAdjust="spacingAndGlyphs" text-anchor="end" transform="rotate(-90 271.30 483.30)">mir-148b</text>
<text x="297.00" y="483.30" font-size="11.7" textLength="31.13" lengthAdjust="spacingAndGlyphs" text-anchor="end" transform="rotate(-90 297.00 483.30)">let7-e</text>
<text x="326.30" y="483.30" font-size="11.7" textLength="42.18" lengthAdjust="spacingAndGlyphs" text-anchor="end" transform="rotate(-90 326.30 483.30)">mir-134</text>
<text x="353.50" y="483.30" font-size="11.7" textLength="42.18" lengthAdjust="spacingAndGlyphs" text-anchor="end" transform="rotate(-90 353.50 483.30)">mir-154</text>
<text x="380.60" y="483.30" font-size="11.7" textLength="42.18" lengthAdjust="spacingAndGlyphs" text-anchor="end" transform="rotate(-90 380.60 483.30)">mir-150</text>
<text x="409.50" y="483.30" font-size="11.7" textLength="48.41" lengthAdjust="spacingAndGlyphs" text-anchor="end" transform="rotate(-90 409.50 483.30)">mir-200c</text>
<g id="panelD">
<text x="1.50" y="555.00" font-size="17.3" textLength="12.00" lengthAdjust="spacingAndGlyphs" class="k" font-weight="bold">D</text>
<line x1="83.75" y1="572.50" x2="161.25" y2="572.50" stroke="#8a8a8a" stroke-width="0.9"/>
<line x1="83.75" y1="588.25" x2="161.25" y2="588.25" stroke="#8a8a8a" stroke-width="0.9"/>
<line x1="83.75" y1="604.00" x2="161.25" y2="604.00" stroke="#8a8a8a" stroke-width="0.9"/>
<line x1="83.75" y1="619.75" x2="161.25" y2="619.75" stroke="#8a8a8a" stroke-width="0.9"/>
<line x1="83.75" y1="635.50" x2="161.25" y2="635.50" stroke="#8a8a8a" stroke-width="0.9"/>
<line x1="98.88" y1="569.50" x2="98.88" y2="572.75" stroke="#000" stroke-width="1.2"/>
<line x1="95.08" y1="569.50" x2="102.67" y2="569.50" stroke="#000" stroke-width="1.3"/>
<rect x="89.50" y="571.75" width="18.75" height="79.50" fill="#000"/>
<line x1="121.88" y1="601.25" x2="121.88" y2="610.25" stroke="#000" stroke-width="1.2"/>
<line x1="118.08" y1="601.25" x2="125.67" y2="601.25" stroke="#000" stroke-width="1.3"/>
<rect x="112.50" y="609.25" width="18.75" height="42.00" fill="#000"/>
<line x1="145.38" y1="552.00" x2="145.38" y2="558.50" stroke="#000" stroke-width="1.2"/>
<rect x="136.25" y="557.50" width="18.25" height="93.75" fill="#000"/>
<rect x="83.75" y="553.50" width="77.50" height="97.75" fill="none" stroke="#000" stroke-width="1.6"/>
<line x1="78.60" y1="572.50" x2="83.75" y2="572.50" stroke="#8a8a8a" stroke-width="0.9"/>
<line x1="78.60" y1="588.25" x2="83.75" y2="588.25" stroke="#8a8a8a" stroke-width="0.9"/>
<line x1="78.60" y1="604.00" x2="83.75" y2="604.00" stroke="#8a8a8a" stroke-width="0.9"/>
<line x1="78.60" y1="619.75" x2="83.75" y2="619.75" stroke="#8a8a8a" stroke-width="0.9"/>
<line x1="78.60" y1="635.50" x2="83.75" y2="635.50" stroke="#8a8a8a" stroke-width="0.9"/>
<text x="77.00" y="576.80" font-size="12.3" textLength="15.70" lengthAdjust="spacingAndGlyphs" text-anchor="end">1.0</text>
<text x="77.00" y="592.55" font-size="12.3" textLength="15.70" lengthAdjust="spacingAndGlyphs" text-anchor="end">0.8</text>
<text x="77.00" y="608.30" font-size="12.3" textLength="15.70" lengthAdjust="spacingAndGlyphs" text-anchor="end">0.6</text>
<text x="77.00" y="624.05" font-size="12.3" textLength="15.70" lengthAdjust="spacingAndGlyphs" text-anchor="end">0.4</text>
<text x="77.00" y="639.80" font-size="12.3" textLength="15.70" lengthAdjust="spacingAndGlyphs" text-anchor="end">0.2</text>
<text x="77.00" y="655.55" font-size="12.3" textLength="15.70" lengthAdjust="spacingAndGlyphs" text-anchor="end">0.0</text>
<line x1="168.25" y1="572.50" x2="246.25" y2="572.50" stroke="#8a8a8a" stroke-width="0.9"/>
<line x1="168.25" y1="588.25" x2="246.25" y2="588.25" stroke="#8a8a8a" stroke-width="0.9"/>
<line x1="168.25" y1="604.00" x2="246.25" y2="604.00" stroke="#8a8a8a" stroke-width="0.9"/>
<line x1="168.25" y1="619.75" x2="246.25" y2="619.75" stroke="#8a8a8a" stroke-width="0.9"/>
<line x1="168.25" y1="635.50" x2="246.25" y2="635.50" stroke="#8a8a8a" stroke-width="0.9"/>
<line x1="183.38" y1="568.25" x2="183.38" y2="572.75" stroke="#000" stroke-width="1.2"/>
<line x1="179.57" y1="568.25" x2="187.18" y2="568.25" stroke="#000" stroke-width="1.3"/>
<rect x="173.75" y="571.75" width="19.25" height="79.50" fill="#000"/>
<line x1="206.38" y1="612.50" x2="206.38" y2="616.75" stroke="#000" stroke-width="1.2"/>
<line x1="202.57" y1="612.50" x2="210.18" y2="612.50" stroke="#000" stroke-width="1.3"/>
<rect x="197.00" y="615.75" width="18.75" height="35.50" fill="#000"/>
<line x1="230.00" y1="556.25" x2="230.00" y2="566.75" stroke="#000" stroke-width="1.2"/>
<line x1="226.20" y1="556.25" x2="233.80" y2="556.25" stroke="#000" stroke-width="1.3"/>
<rect x="220.50" y="565.75" width="19.00" height="85.50" fill="#000"/>
<rect x="168.25" y="553.50" width="78.00" height="97.75" fill="none" stroke="#000" stroke-width="1.6"/>
<line x1="254.50" y1="572.50" x2="332.00" y2="572.50" stroke="#8a8a8a" stroke-width="0.9"/>
<line x1="254.50" y1="588.25" x2="332.00" y2="588.25" stroke="#8a8a8a" stroke-width="0.9"/>
<line x1="254.50" y1="604.00" x2="332.00" y2="604.00" stroke="#8a8a8a" stroke-width="0.9"/>
<line x1="254.50" y1="619.75" x2="332.00" y2="619.75" stroke="#8a8a8a" stroke-width="0.9"/>
<line x1="254.50" y1="635.50" x2="332.00" y2="635.50" stroke="#8a8a8a" stroke-width="0.9"/>
<line x1="269.88" y1="568.00" x2="269.88" y2="572.25" stroke="#000" stroke-width="1.2"/>
<line x1="266.07" y1="568.00" x2="273.68" y2="568.00" stroke="#000" stroke-width="1.3"/>
<rect x="260.50" y="571.25" width="18.75" height="80.00" fill="#000"/>
<line x1="292.50" y1="604.50" x2="292.50" y2="615.50" stroke="#000" stroke-width="1.2"/>
<line x1="288.70" y1="604.50" x2="296.30" y2="604.50" stroke="#000" stroke-width="1.3"/>
<rect x="283.25" y="614.50" width="18.50" height="36.75" fill="#000"/>
<line x1="316.25" y1="565.50" x2="316.25" y2="572.25" stroke="#000" stroke-width="1.2"/>
<line x1="312.45" y1="565.50" x2="320.05" y2="565.50" stroke="#000" stroke-width="1.3"/>
<rect x="307.00" y="571.25" width="18.50" height="80.00" fill="#000"/>
<rect x="254.50" y="553.50" width="77.50" height="97.75" fill="none" stroke="#000" stroke-width="1.6"/>
<line x1="340.00" y1="572.50" x2="417.50" y2="572.50" stroke="#8a8a8a" stroke-width="0.9"/>
<line x1="340.00" y1="588.25" x2="417.50" y2="588.25" stroke="#8a8a8a" stroke-width="0.9"/>
<line x1="340.00" y1="604.00" x2="417.50" y2="604.00" stroke="#8a8a8a" stroke-width="0.9"/>
<line x1="340.00" y1="619.75" x2="417.50" y2="619.75" stroke="#8a8a8a" stroke-width="0.9"/>
<line x1="340.00" y1="635.50" x2="417.50" y2="635.50" stroke="#8a8a8a" stroke-width="0.9"/>
<line x1="355.12" y1="568.00" x2="355.12" y2="572.25" stroke="#000" stroke-width="1.2"/>
<line x1="351.32" y1="568.00" x2="358.93" y2="568.00" stroke="#000" stroke-width="1.3"/>
<rect x="345.75" y="571.25" width="18.75" height="80.00" fill="#000"/>
<line x1="377.62" y1="598.75" x2="377.62" y2="607.75" stroke="#000" stroke-width="1.2"/>
<line x1="373.82" y1="598.75" x2="381.43" y2="598.75" stroke="#000" stroke-width="1.3"/>
<rect x="368.25" y="606.75" width="18.75" height="44.50" fill="#000"/>
<line x1="401.62" y1="560.75" x2="401.62" y2="574.75" stroke="#000" stroke-width="1.2"/>
<line x1="397.82" y1="560.75" x2="405.43" y2="560.75" stroke="#000" stroke-width="1.3"/>
<rect x="392.50" y="573.75" width="18.25" height="77.50" fill="#000"/>
<rect x="340.00" y="553.50" width="77.50" height="97.75" fill="none" stroke="#000" stroke-width="1.6"/>
<line x1="425.00" y1="572.50" x2="503.00" y2="572.50" stroke="#8a8a8a" stroke-width="0.9"/>
<line x1="425.00" y1="588.25" x2="503.00" y2="588.25" stroke="#8a8a8a" stroke-width="0.9"/>
<line x1="425.00" y1="604.00" x2="503.00" y2="604.00" stroke="#8a8a8a" stroke-width="0.9"/>
<line x1="425.00" y1="619.75" x2="503.00" y2="619.75" stroke="#8a8a8a" stroke-width="0.9"/>
<line x1="425.00" y1="635.50" x2="503.00" y2="635.50" stroke="#8a8a8a" stroke-width="0.9"/>
<line x1="440.62" y1="568.25" x2="440.62" y2="572.25" stroke="#000" stroke-width="1.2"/>
<line x1="436.82" y1="568.25" x2="444.43" y2="568.25" stroke="#000" stroke-width="1.3"/>
<rect x="431.25" y="571.25" width="18.75" height="80.00" fill="#000"/>
<line x1="463.38" y1="610.75" x2="463.38" y2="617.75" stroke="#000" stroke-width="1.2"/>
<line x1="459.57" y1="610.75" x2="467.18" y2="610.75" stroke="#000" stroke-width="1.3"/>
<rect x="454.25" y="616.75" width="18.25" height="34.50" fill="#000"/>
<line x1="487.12" y1="580.00" x2="487.12" y2="590.25" stroke="#000" stroke-width="1.2"/>
<line x1="483.32" y1="580.00" x2="490.93" y2="580.00" stroke="#000" stroke-width="1.3"/>
<rect x="478.00" y="589.25" width="18.25" height="62.00" fill="#000"/>
<rect x="425.00" y="553.50" width="78.00" height="97.75" fill="none" stroke="#000" stroke-width="1.6"/>
<text x="50.70" y="639.30" font-size="12.2" textLength="72.80" lengthAdjust="spacingAndGlyphs" transform="rotate(-90 50.70 639.30)">Rel. luciferase</text>
<text x="32.50" y="669.50" font-size="12.2" textLength="22.00" lengthAdjust="spacingAndGlyphs">Myc</text>
<text x="56.25" y="669.50" font-size="12.2" textLength="35.50" lengthAdjust="spacingAndGlyphs">3’-UTR</text>
<text x="96.25" y="669.50" font-size="12.2" textLength="12.80" lengthAdjust="spacingAndGlyphs">wt</text>
<text x="119.50" y="669.50" font-size="12.2" textLength="12.80" lengthAdjust="spacingAndGlyphs">wt</text>
<text x="141.50" y="669.20" font-size="12.2" textLength="17.20" lengthAdjust="spacingAndGlyphs">125</text>
<text x="159.30" y="664.30" font-size="8.0" textLength="19.20" lengthAdjust="spacingAndGlyphs" style="stroke-width:.1px;fill:#2a2a2a">mut2</text>
<text x="180.50" y="669.50" font-size="12.2" textLength="12.80" lengthAdjust="spacingAndGlyphs">wt</text>
<text x="205.00" y="669.50" font-size="12.2" textLength="12.80" lengthAdjust="spacingAndGlyphs">wt</text>
<text x="227.00" y="669.20" font-size="12.2" textLength="17.00" lengthAdjust="spacingAndGlyphs">132</text>
<text x="244.20" y="664.30" font-size="8.0" textLength="15.00" lengthAdjust="spacingAndGlyphs" style="stroke-width:.1px;fill:#2a2a2a">mut</text>
<text x="267.00" y="669.50" font-size="12.2" textLength="12.80" lengthAdjust="spacingAndGlyphs">wt</text>
<text x="290.50" y="669.50" font-size="12.2" textLength="12.80" lengthAdjust="spacingAndGlyphs">wt</text>
<text x="313.00" y="669.50" font-size="12.2" textLength="12.20" lengthAdjust="spacingAndGlyphs">let</text>
<text x="325.60" y="664.30" font-size="8.0" textLength="14.40" lengthAdjust="spacingAndGlyphs" style="stroke-width:.1px;fill:#2a2a2a">mut</text>
<text x="351.50" y="669.50" font-size="12.2" textLength="12.80" lengthAdjust="spacingAndGlyphs">wt</text>
<text x="375.50" y="669.50" font-size="12.2" textLength="12.80" lengthAdjust="spacingAndGlyphs">wt</text>
<text x="397.00" y="669.50" font-size="12.2" textLength="12.60" lengthAdjust="spacingAndGlyphs">let</text>
<text x="410.30" y="664.30" font-size="8.0" textLength="14.20" lengthAdjust="spacingAndGlyphs" style="stroke-width:.1px;fill:#2a2a2a">mut</text>
<text x="437.50" y="669.50" font-size="12.2" textLength="12.80" lengthAdjust="spacingAndGlyphs">wt</text>
<text x="460.50" y="669.50" font-size="12.2" textLength="12.80" lengthAdjust="spacingAndGlyphs">wt</text>
<text x="483.50" y="669.20" font-size="12.2" textLength="18.00" lengthAdjust="spacingAndGlyphs">154</text>
<text x="502.20" y="664.30" font-size="8.0" textLength="13.60" lengthAdjust="spacingAndGlyphs" style="stroke-width:.1px;fill:#2a2a2a">mut</text>
<text x="33.50" y="687.00" font-size="12.2" textLength="36.50" lengthAdjust="spacingAndGlyphs">miRNA</text>
<text x="97.00" y="687.00" font-size="12.2" textLength="6.50" lengthAdjust="spacingAndGlyphs">S</text>
<text x="113.00" y="687.00" font-size="12.2" textLength="25.80" lengthAdjust="spacingAndGlyphs">125b</text>
<text x="141.50" y="687.00" font-size="12.2" textLength="26.00" lengthAdjust="spacingAndGlyphs">125b</text>
<text x="182.50" y="687.00" font-size="12.2" textLength="6.40" lengthAdjust="spacingAndGlyphs">S</text>
<text x="203.75" y="687.00" font-size="12.2" textLength="17.00" lengthAdjust="spacingAndGlyphs">132</text>
<text x="227.50" y="687.00" font-size="12.2" textLength="18.20" lengthAdjust="spacingAndGlyphs">132</text>
<text x="268.00" y="687.00" font-size="12.2" textLength="6.40" lengthAdjust="spacingAndGlyphs">S</text>
<text x="283.25" y="687.00" font-size="12.2" textLength="26.30" lengthAdjust="spacingAndGlyphs">let7e</text>
<text x="313.00" y="687.00" font-size="12.2" textLength="26.50" lengthAdjust="spacingAndGlyphs">let7e</text>
<text x="352.50" y="687.00" font-size="12.2" textLength="6.40" lengthAdjust="spacingAndGlyphs">S</text>
<text x="370.00" y="687.00" font-size="12.2" textLength="25.50" lengthAdjust="spacingAndGlyphs">let7a</text>
<text x="399.00" y="687.00" font-size="12.2" textLength="26.00" lengthAdjust="spacingAndGlyphs">let7a</text>
<text x="440.00" y="687.00" font-size="12.2" textLength="6.40" lengthAdjust="spacingAndGlyphs">S</text>
<text x="459.00" y="687.00" font-size="12.2" textLength="17.50" lengthAdjust="spacingAndGlyphs">154</text>
<text x="485.00" y="687.00" font-size="12.2" textLength="17.50" lengthAdjust="spacingAndGlyphs">154</text>
</g>
<g fill="none" stroke="#747474" stroke-width="1.5" stroke-dasharray="4.8 3">
<line x1="123.75" y1="690.5" x2="165.5" y2="719.0"/>
<line x1="206.5" y1="691.5" x2="165.5" y2="719.0"/>
<line x1="293.0" y1="690.0" x2="165.5" y2="719.0"/>
<line x1="370.5" y1="690.0" x2="165.5" y2="719.0"/>
<line x1="465.5" y1="690.5" x2="165.5" y2="719.0"/>
<line x1="164.5" y1="725" x2="164.5" y2="788"/>
</g>
<g id="panelE">
<text x="1.50" y="738.00" font-size="17.3" textLength="11.20" lengthAdjust="spacingAndGlyphs" class="k" font-weight="bold">E</text>
<line x1="85.50" y1="756.75" x2="242.50" y2="756.75" stroke="#8a8a8a" stroke-width="0.9"/>
<line x1="85.50" y1="772.40" x2="242.50" y2="772.40" stroke="#8a8a8a" stroke-width="0.9"/>
<line x1="85.50" y1="788.05" x2="242.50" y2="788.05" stroke="#8a8a8a" stroke-width="0.9"/>
<line x1="85.50" y1="803.70" x2="242.50" y2="803.70" stroke="#8a8a8a" stroke-width="0.9"/>
<line x1="85.50" y1="819.35" x2="242.50" y2="819.35" stroke="#8a8a8a" stroke-width="0.9"/>
<line x1="104.38" y1="751.25" x2="104.38" y2="756.00" stroke="#000" stroke-width="1.2"/>
<line x1="100.17" y1="751.25" x2="108.58" y2="751.25" stroke="#000" stroke-width="1.3"/>
<rect x="92.50" y="755.00" width="23.75" height="80.00" fill="#000"/>
<line x1="133.88" y1="752.50" x2="133.88" y2="762.75" stroke="#000" stroke-width="1.2"/>
<line x1="129.68" y1="752.50" x2="138.07" y2="752.50" stroke="#000" stroke-width="1.3"/>
<rect x="122.25" y="761.75" width="23.25" height="73.25" fill="#000"/>
<line x1="164.62" y1="806.25" x2="164.62" y2="810.50" stroke="#000" stroke-width="1.2"/>
<line x1="160.43" y1="806.25" x2="168.82" y2="806.25" stroke="#000" stroke-width="1.3"/>
<rect x="153.00" y="809.50" width="23.25" height="25.50" fill="#000"/>
<line x1="194.62" y1="783.00" x2="194.62" y2="791.00" stroke="#000" stroke-width="1.2"/>
<line x1="190.43" y1="783.00" x2="198.82" y2="783.00" stroke="#000" stroke-width="1.3"/>
<rect x="183.00" y="790.00" width="23.25" height="45.00" fill="#000"/>
<line x1="224.62" y1="743.00" x2="224.62" y2="751.00" stroke="#000" stroke-width="1.2"/>
<line x1="220.43" y1="743.00" x2="228.82" y2="743.00" stroke="#000" stroke-width="1.3"/>
<rect x="213.00" y="750.00" width="23.25" height="85.00" fill="#000"/>
<rect x="85.50" y="737.00" width="157.00" height="98.00" fill="none" stroke="#000" stroke-width="1.6"/>
<line x1="82.30" y1="756.75" x2="85.50" y2="756.75" stroke="#000" stroke-width="1.3"/>
<line x1="82.30" y1="772.40" x2="85.50" y2="772.40" stroke="#000" stroke-width="1.3"/>
<line x1="82.30" y1="788.05" x2="85.50" y2="788.05" stroke="#000" stroke-width="1.3"/>
<line x1="82.30" y1="803.70" x2="85.50" y2="803.70" stroke="#000" stroke-width="1.3"/>
<line x1="82.30" y1="819.35" x2="85.50" y2="819.35" stroke="#000" stroke-width="1.3"/>
<line x1="82.30" y1="835.00" x2="85.50" y2="835.00" stroke="#000" stroke-width="1.3"/>
<line x1="85.50" y1="756.75" x2="92.30" y2="756.75" stroke="#000" stroke-width="1.3"/>
<line x1="85.50" y1="772.40" x2="92.30" y2="772.40" stroke="#000" stroke-width="1.3"/>
<line x1="85.50" y1="788.05" x2="92.30" y2="788.05" stroke="#000" stroke-width="1.3"/>
<line x1="85.50" y1="803.70" x2="92.30" y2="803.70" stroke="#000" stroke-width="1.3"/>
<line x1="85.50" y1="819.35" x2="92.30" y2="819.35" stroke="#000" stroke-width="1.3"/>
<text x="80.60" y="762.55" font-size="12.3" textLength="15.70" lengthAdjust="spacingAndGlyphs" text-anchor="end">1.0</text>
<text x="80.60" y="778.50" font-size="12.3" textLength="15.70" lengthAdjust="spacingAndGlyphs" text-anchor="end">0.8</text>
<text x="80.60" y="794.45" font-size="12.3" textLength="15.70" lengthAdjust="spacingAndGlyphs" text-anchor="end">0.6</text>
<text x="80.60" y="810.40" font-size="12.3" textLength="15.70" lengthAdjust="spacingAndGlyphs" text-anchor="end">0.4</text>
<text x="80.60" y="826.35" font-size="12.3" textLength="15.70" lengthAdjust="spacingAndGlyphs" text-anchor="end">0.2</text>
<text x="80.60" y="842.30" font-size="12.3" textLength="15.70" lengthAdjust="spacingAndGlyphs" text-anchor="end">0.0</text>
<text x="57.00" y="824.80" font-size="12.2" textLength="73.20" lengthAdjust="spacingAndGlyphs" transform="rotate(-90 57.00 824.80)">Rel. luciferase</text>
<text x="98.75" y="849.50" font-size="12.2" textLength="11.50" lengthAdjust="spacingAndGlyphs">S1</text>
<text x="127.50" y="849.50" font-size="12.2" textLength="12.30" lengthAdjust="spacingAndGlyphs">S2</text>
<text x="160.00" y="849.50" font-size="12.2" textLength="13.80" lengthAdjust="spacingAndGlyphs">G1</text>
<text x="188.25" y="849.50" font-size="12.2" textLength="15.20" lengthAdjust="spacingAndGlyphs">G2</text>
<text x="221.25" y="849.50" font-size="12.2" textLength="14.50" lengthAdjust="spacingAndGlyphs">G3</text>
<line x1="91.25" y1="853.90" x2="145.00" y2="853.90" stroke="#1a1a1a" stroke-width="1.3"/>
<text x="96.50" y="869.50" font-size="12.2" textLength="50.50" lengthAdjust="spacingAndGlyphs">Scramble</text>
</g>
<g id="panelF">
<text x="259.50" y="738.00" font-size="17.3" textLength="10.40" lengthAdjust="spacingAndGlyphs" class="k" font-weight="bold">F</text>
<line x1="312.00" y1="749.50" x2="466.25" y2="749.50" stroke="#8a8a8a" stroke-width="0.9"/>
<line x1="312.00" y1="765.10" x2="466.25" y2="765.10" stroke="#8a8a8a" stroke-width="0.9"/>
<line x1="312.00" y1="780.70" x2="466.25" y2="780.70" stroke="#8a8a8a" stroke-width="0.9"/>
<line x1="312.00" y1="796.30" x2="466.25" y2="796.30" stroke="#8a8a8a" stroke-width="0.9"/>
<line x1="312.00" y1="811.90" x2="466.25" y2="811.90" stroke="#8a8a8a" stroke-width="0.9"/>
<line x1="330.75" y1="742.50" x2="330.75" y2="746.75" stroke="#000" stroke-width="1.2"/>
<line x1="326.55" y1="742.50" x2="334.95" y2="742.50" stroke="#000" stroke-width="1.3"/>
<rect x="319.50" y="745.75" width="22.50" height="81.75" fill="#000"/>
<line x1="360.75" y1="745.00" x2="360.75" y2="753.00" stroke="#000" stroke-width="1.2"/>
<line x1="356.55" y1="745.00" x2="364.95" y2="745.00" stroke="#000" stroke-width="1.3"/>
<rect x="349.50" y="752.00" width="22.50" height="75.50" fill="#000"/>
<line x1="391.00" y1="799.50" x2="391.00" y2="807.25" stroke="#000" stroke-width="1.2"/>
<line x1="386.80" y1="799.50" x2="395.20" y2="799.50" stroke="#000" stroke-width="1.3"/>
<rect x="380.00" y="806.25" width="22.00" height="21.25" fill="#000"/>
<line x1="420.88" y1="769.25" x2="420.88" y2="783.00" stroke="#000" stroke-width="1.2"/>
<line x1="416.68" y1="769.25" x2="425.07" y2="769.25" stroke="#000" stroke-width="1.3"/>
<rect x="410.00" y="782.00" width="21.75" height="45.50" fill="#000"/>
<line x1="450.25" y1="743.75" x2="450.25" y2="752.25" stroke="#000" stroke-width="1.2"/>
<line x1="446.05" y1="743.75" x2="454.45" y2="743.75" stroke="#000" stroke-width="1.3"/>
<rect x="439.25" y="751.25" width="22.00" height="76.25" fill="#000"/>
<rect x="312.00" y="737.20" width="154.25" height="90.30" fill="none" stroke="#000" stroke-width="1.6"/>
<line x1="304.60" y1="749.50" x2="312.00" y2="749.50" stroke="#000" stroke-width="1.3"/>
<line x1="304.60" y1="765.10" x2="312.00" y2="765.10" stroke="#000" stroke-width="1.3"/>
<line x1="304.60" y1="780.70" x2="312.00" y2="780.70" stroke="#000" stroke-width="1.3"/>
<line x1="304.60" y1="796.30" x2="312.00" y2="796.30" stroke="#000" stroke-width="1.3"/>
<line x1="304.60" y1="811.90" x2="312.00" y2="811.90" stroke="#000" stroke-width="1.3"/>
<line x1="304.60" y1="827.50" x2="312.00" y2="827.50" stroke="#000" stroke-width="1.3"/>
<text x="304.40" y="755.60" font-size="12.3" textLength="15.70" lengthAdjust="spacingAndGlyphs" text-anchor="end">1.0</text>
<text x="304.40" y="771.20" font-size="12.3" textLength="15.70" lengthAdjust="spacingAndGlyphs" text-anchor="end">0.8</text>
<text x="304.40" y="786.80" font-size="12.3" textLength="15.70" lengthAdjust="spacingAndGlyphs" text-anchor="end">0.6</text>
<text x="304.40" y="802.40" font-size="12.3" textLength="15.70" lengthAdjust="spacingAndGlyphs" text-anchor="end">0.4</text>
<text x="304.40" y="818.00" font-size="12.3" textLength="15.70" lengthAdjust="spacingAndGlyphs" text-anchor="end">0.2</text>
<text x="304.40" y="833.60" font-size="12.3" textLength="15.70" lengthAdjust="spacingAndGlyphs" text-anchor="end">0.0</text>
<text x="281.60" y="825.20" font-size="12.2" textLength="78.30" lengthAdjust="spacingAndGlyphs" transform="rotate(-90 281.60 825.20)">Relative c-Myc</text>
<clipPath id="cf1"><rect x="311.5" y="834.5" width="156" height="26"/></clipPath>
<rect x="311.50" y="834.50" width="156.00" height="26.00" fill="#fdfdfd"/>
<g clip-path="url(#cf1)">
<path d="M314.0,848.0 L342.5,848.0" fill="none" stroke="#888" stroke-width="7.7" stroke-linecap="round" filter="url(#b3f)" opacity="0.6"/>
<path d="M315.5,848.0 L341.0,848.0" fill="none" stroke="#2a2a2a" stroke-width="4.2" stroke-linecap="round" filter="url(#b2f)" opacity="1.0"/>
<path d="M347.5,847.6 L372.5,847.6" fill="none" stroke="#999" stroke-width="7.5" stroke-linecap="round" filter="url(#b3f)" opacity="0.6"/>
<path d="M349.0,847.6 L371.0,847.6" fill="none" stroke="#363636" stroke-width="4.0" stroke-linecap="round" filter="url(#b2f)" opacity="1.0"/>
<path d="M382.5,849.6 L398.5,849.6" fill="none" stroke="#a5a5a5" stroke-width="2.2" stroke-linecap="round" filter="url(#b2f)" opacity="1.0"/>
<path d="M408.0,849.2 L433.5,849.2" fill="none" stroke="#888" stroke-width="7.5" stroke-linecap="round" filter="url(#b3f)" opacity="0.6"/>
<path d="M409.5,849.2 L432.0,849.2" fill="none" stroke="#303030" stroke-width="4.0" stroke-linecap="round" filter="url(#b2f)" opacity="1.0"/>
<path d="M438.0,848.0 L463.5,848.0" fill="none" stroke="#777" stroke-width="9.1" stroke-linecap="round" filter="url(#b3f)" opacity="0.6"/>
<path d="M439.5,848.0 L462.0,848.0" fill="none" stroke="#1c1c1c" stroke-width="5.6" stroke-linecap="round" filter="url(#b2f)" opacity="1.0"/>
</g>
<rect x="311.50" y="834.50" width="156.00" height="26.00" fill="none" stroke="#333" stroke-width="1.35"/>
<clipPath id="cf2"><rect x="311.5" y="864.3" width="156" height="25.2"/></clipPath>
<rect x="311.50" y="864.30" width="156.00" height="25.20" fill="#efefef"/>
<g clip-path="url(#cf2)">
<path d="M310.0,876.2 L325.0,877.6 L342.0,878.4 L346.0,877.2 L360.0,878.6 L374.0,879.4 L378.0,878.4 L392.0,880.0 L404.0,880.4 L408.0,878.8 L420.0,880.2 L434.0,880.6 L438.0,879.0 L452.0,881.0 L464.0,880.0 L469.0,878.0" fill="none" stroke="#2a2a2a" stroke-width="7.0" stroke-linecap="round" filter="url(#b2f)" opacity="0.5"/>
<path d="M310.0,876.2 L325.0,877.6 L342.0,878.4 L346.0,877.2 L360.0,878.6 L374.0,879.4 L378.0,878.4 L392.0,880.0 L404.0,880.4 L408.0,878.8 L420.0,880.2 L434.0,880.6 L438.0,879.0 L452.0,881.0 L464.0,880.0 L469.0,878.0" fill="none" stroke="#0c0c0c" stroke-width="5.7" stroke-linecap="round" filter="url(#b1f)" opacity="1.0"/>
</g>
<rect x="311.50" y="864.30" width="156.00" height="25.20" fill="none" stroke="#333" stroke-width="1.35"/>
<line x1="469.20" y1="848.40" x2="479.80" y2="848.40" stroke="#000" stroke-width="1.6"/>
<line x1="469.20" y1="880.00" x2="479.80" y2="880.00" stroke="#000" stroke-width="1.6"/>
<text x="482.60" y="853.50" font-size="12.2" textLength="22.40" lengthAdjust="spacingAndGlyphs">Myc</text>
<text x="482.6" y="882.8" font-size="12.2" textLength="37.5" lengthAdjust="spacingAndGlyphs"><tspan font-weight="bold">α</tspan>–tub.</text>
<text x="325.00" y="904.50" font-size="12.2" textLength="12.00" lengthAdjust="spacingAndGlyphs">S1</text>
<text x="355.50" y="904.50" font-size="12.2" textLength="12.00" lengthAdjust="spacingAndGlyphs">S2</text>
<text x="386.75" y="904.50" font-size="12.2" textLength="13.80" lengthAdjust="spacingAndGlyphs">G1</text>
<text x="418.50" y="904.50" font-size="12.2" textLength="14.00" lengthAdjust="spacingAndGlyphs">G2</text>
<text x="443.80" y="904.50" font-size="12.2" textLength="15.00" lengthAdjust="spacingAndGlyphs">G3</text>
<line x1="320.00" y1="909.30" x2="365.50" y2="909.30" stroke="#1a1a1a" stroke-width="1.3"/>
<text x="321.25" y="924.50" font-size="12.2" textLength="51.00" lengthAdjust="spacingAndGlyphs">Scramble</text>
</g>
</svg>
</body>
</html>
